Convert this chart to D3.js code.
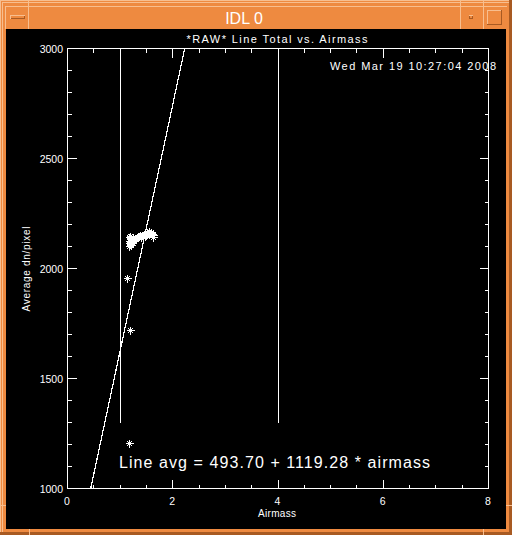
<!DOCTYPE html>
<html><head><meta charset="utf-8">
<script src="https://cdn.jsdelivr.net/npm/d3@7"></script>
<style>html,body{margin:0;padding:0;background:#ee8a40;}svg{display:block;}</style>
</head><body>
<script>
const airmass = [1.17,1.18,1.19,1.20,1.21,1.18,1.22,1.24,1.19,1.23,1.26,1.28,1.30,1.25,1.32,1.34,1.36,1.38,1.40,1.42,1.44,1.46,1.48,1.50,1.52,1.55,1.58,1.61,1.64,1.17,1.20,1.22,1.56,1.60,1.63,1.14,1.20,1.17];
const lineTotal = [2112,2125,2135,2108,2120,2140,2130,2115,2118,2128,2122,2132,2138,2142,2135,2140,2145,2150,2143,2148,2152,2155,2146,2150,2158,2153,2160,2155,2150,2100,2146,2104,2167,2164,2142,1955,1718,1203];
const fitIntercept = 493.70, fitSlope = 1119.28;
const limitAirmass = [1, 4];
const limitBottom = 1300;
const xTicks = [0,2,4,6,8];
const yTicks = [1000,1500,2000,2500,3000];
const windowTitle = "IDL 0";
const chartTitle = "*RAW* Line Total vs. Airmass";
const dateText = "Wed Mar 19 10:27:04 2008";
const xLabel = "Airmass", yLabel = "Average dn/pixel";
const eqText = "Line avg = 493.70 + 1119.28 * airmass";

const W=512,H=535;
const svg=d3.select("body").append("svg").attr("width",W).attr("height",H);
const orange="#ee8a40", light="#f8be8e", dark="#a85a22";
// window frame
svg.append("rect").attr("width",W).attr("height",H).attr("fill",orange);
const fr=svg.append("g").attr("shape-rendering","crispEdges").attr("stroke-width",1);
fr.append("line").attr("x1",0.5).attr("y1",0).attr("x2",0.5).attr("y2",H).attr("stroke",light);
fr.append("line").attr("x1",0).attr("y1",0.5).attr("x2",W).attr("y2",0.5).attr("stroke",light);
fr.append("line").attr("x1",2.5).attr("y1",2).attr("x2",2.5).attr("y2",H-3).attr("stroke",light);
fr.append("line").attr("x1",2).attr("y1",2.5).attr("x2",W-3).attr("y2",2.5).attr("stroke",light);
fr.append("line").attr("x1",5).attr("y1",6.5).attr("x2",507).attr("y2",6.5).attr("stroke",light);
fr.append("line").attr("x1",5.5).attr("y1",6).attr("x2",5.5).attr("y2",29).attr("stroke",light);
[28.5,460.5,483.5].forEach(x=>fr.append("line").attr("x1",x).attr("y1",0).attr("x2",x).attr("y2",29).attr("stroke",light));
fr.append("rect").attr("x",W-3).attr("y",0).attr("width",3).attr("height",H).attr("fill",dark).attr("stroke","none");
fr.append("rect").attr("x",0).attr("y",H-3).attr("width",W).attr("height",3).attr("fill",dark).attr("stroke","none");
fr.append("line").attr("x1",29.5).attr("y1",529).attr("x2",29.5).attr("y2",H).attr("stroke",light);
fr.append("line").attr("x1",483.5).attr("y1",529).attr("x2",483.5).attr("y2",H).attr("stroke",light);
fr.append("line").attr("x1",0).attr("y1",505.5).attr("x2",6).attr("y2",505.5).attr("stroke",light);
fr.append("line").attr("x1",506).attr("y1",505.5).attr("x2",W).attr("y2",505.5).attr("stroke",light);
// buttons
fr.append("rect").attr("x",10.5).attr("y",15.5).attr("width",14).attr("height",3).attr("fill",orange).attr("stroke",dark);
fr.append("line").attr("x1",10).attr("y1",15.5).attr("x2",25).attr("y2",15.5).attr("stroke",light);
fr.append("line").attr("x1",10.5).attr("y1",15).attr("x2",10.5).attr("y2",19).attr("stroke",light);
fr.append("rect").attr("x",469.5).attr("y",15.5).attr("width",3).attr("height",3).attr("fill",orange).attr("stroke",dark);
fr.append("line").attr("x1",469).attr("y1",15.5).attr("x2",473).attr("y2",15.5).attr("stroke",light);
fr.append("rect").attr("x",487.5).attr("y",10.5).attr("width",14).attr("height",14).attr("fill",orange).attr("stroke",light);
fr.append("line").attr("x1",487).attr("y1",24.5).attr("x2",502).attr("y2",24.5).attr("stroke",dark);
fr.append("line").attr("x1",501.5).attr("y1",10).attr("x2",501.5).attr("y2",25).attr("stroke",dark);
svg.append("text").attr("x",244).attr("y",24).attr("text-anchor","middle").attr("fill","#fff")
  .attr("font-family","Liberation Sans, Arial, sans-serif").attr("font-size",16).text(windowTitle);
// black canvas
svg.append("rect").attr("x",6).attr("y",29).attr("width",500).attr("height",500).attr("fill","#000");

const x=d3.scaleLinear().domain([0,8]).range([67,488]);
const y=d3.scaleLinear().domain([1000,3000]).range([488,48]);
const g=svg.append("g");
const font="Liberation Sans, Arial, sans-serif";
const ax=g.append("g").attr("stroke","#fff").attr("shape-rendering","crispEdges");
const X=v=>Math.round(x(v))+0.5, Y=v=>Math.round(y(v))+0.5;
ax.append("rect").attr("x",X(0)).attr("y",Y(3000)).attr("width",X(8)-X(0)).attr("height",Y(1000)-Y(3000)).attr("fill","none");
d3.range(0,8.001,0.5).forEach(v=>{
  const L = (Math.abs(v%2)<1e-9)?9:4;
  ax.append("line").attr("x1",X(v)).attr("x2",X(v)).attr("y1",Y(1000)).attr("y2",Y(1000)-L);
  ax.append("line").attr("x1",X(v)).attr("x2",X(v)).attr("y1",Y(3000)).attr("y2",Y(3000)+L);
});
d3.range(1000,3000.1,100).forEach(v=>{
  const L = (v%500===0)?9:4;
  ax.append("line").attr("y1",Y(v)).attr("y2",Y(v)).attr("x1",X(0)).attr("x2",X(0)+L);
  ax.append("line").attr("y1",Y(v)).attr("y2",Y(v)).attr("x1",X(8)).attr("x2",X(8)-L);
});
const tx=g.append("g").attr("fill","#fff").attr("font-family",font).attr("font-size",10.5);
xTicks.forEach(v=>tx.append("text").attr("x",x(v)).attr("y",504.5).attr("text-anchor","middle").text(String(v)));
yTicks.forEach(v=>tx.append("text").attr("x",63).attr("y",y(v)+4.5).attr("text-anchor","end").text(String(v)));
g.append("text").attr("x",277).attr("y",42.5).attr("text-anchor","middle").attr("fill","#fff").attr("font-family",font)
  .attr("font-size",11).attr("textLength",181).attr("lengthAdjust","spacing").text(chartTitle);
g.append("text").attr("x",330).attr("y",70).attr("fill","#fff").attr("font-family",font)
  .attr("font-size",11).attr("textLength",166).attr("lengthAdjust","spacing").text(dateText);
g.append("text").attr("x",277).attr("y",516.5).attr("text-anchor","middle").attr("fill","#fff").attr("font-family",font)
  .attr("font-size",10).attr("textLength",38).attr("lengthAdjust","spacing").text(xLabel);
g.append("text").attr("transform","translate(30,269) rotate(-90)").attr("text-anchor","middle").attr("fill","#fff").attr("font-family",font)
  .attr("font-size",10).attr("textLength",85).attr("lengthAdjust","spacing").text(yLabel);
g.append("text").attr("x",119).attr("y",467.5).attr("fill","#fff").attr("font-family",font)
  .attr("font-size",16).attr("textLength",311).attr("lengthAdjust","spacing").text(eqText);
limitAirmass.forEach(a=>ax.append("line").attr("x1",X(a)).attr("x2",X(a)).attr("y1",Y(3000)).attr("y2",Y(limitBottom)));
const xa=(1000-fitIntercept)/fitSlope, xb=(3000-fitIntercept)/fitSlope;
g.append("line").attr("x1",x(xa)).attr("y1",y(1000)).attr("x2",x(xb)).attr("y2",y(3000))
  .attr("stroke","#fff").attr("stroke-width",1.2).attr("shape-rendering","crispEdges");
const r=4, d2=2.9;
const star=`M${-r},0H${r}M0,${-r}V${r}M${-d2},${-d2}L${d2},${d2}M${-d2},${d2}L${d2},${-d2}`;
g.append("g").attr("shape-rendering","crispEdges").selectAll("path").data(airmass.map((a,i)=>[a,lineTotal[i]])).join("path")
  .attr("transform",d=>`translate(${Math.round(x(d[0]))+0.5},${Math.round(y(d[1]))+0.5})`)
  .attr("d",star).attr("stroke","#fff").attr("fill","none").attr("stroke-width",1);
</script>
</body></html>
